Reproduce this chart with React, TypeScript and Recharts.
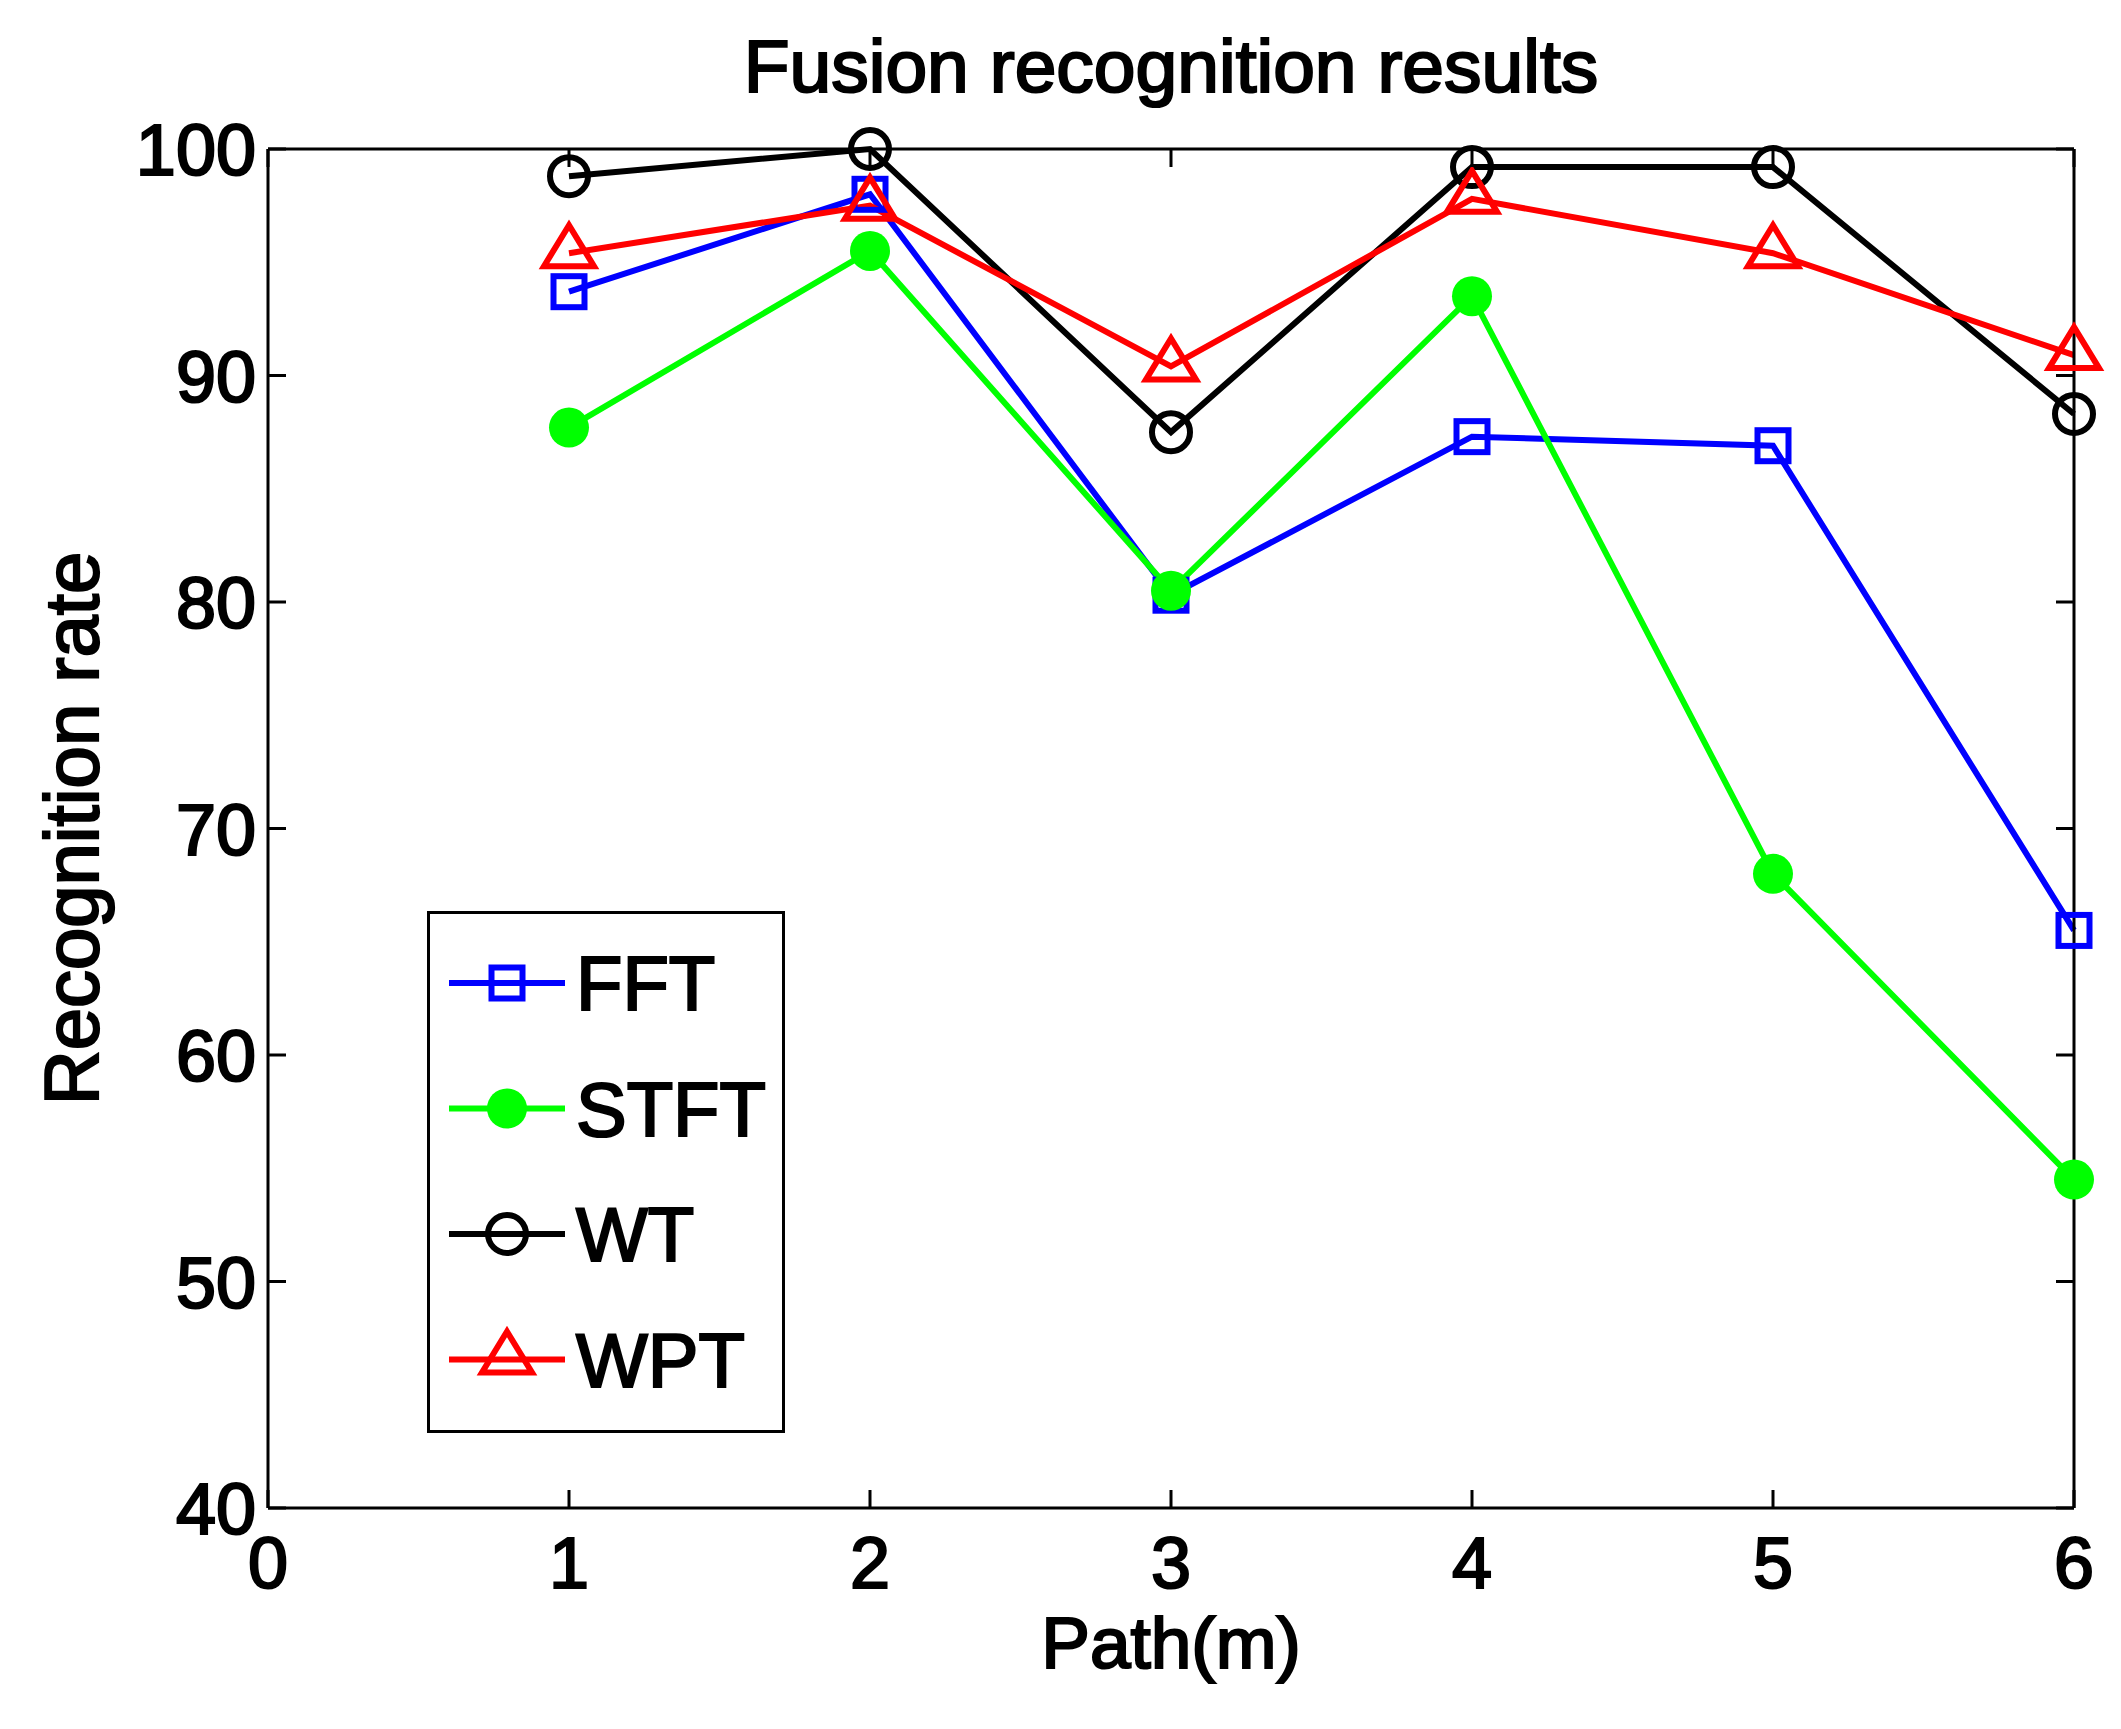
import React from "react";
import { LineChart, Line, XAxis, YAxis, Legend } from "recharts";

const paths = [1, 2, 3, 4, 5, 6];
const fftRates = [93.7, 98.0, 80.3, 87.3, 86.9, 65.5];
const stftRates = [87.7, 95.5, 80.5, 93.5, 68.0, 54.5];
const wtRates = [98.8, 100, 87.5, 99.2, 99.2, 88.3];
const wptRates = [95.4, 97.5, 90.4, 97.8, 95.4, 90.9];

const xTicks = [0, 1, 2, 3, 4, 5, 6];
const yTicks = [40, 50, 60, 70, 80, 90, 100];

const series = [
  { key: "FFT", color: "#0000ff", marker: "square" },
  { key: "STFT", color: "#00ff00", marker: "disc" },
  { key: "WT", color: "#000000", marker: "circle" },
  { key: "WPT", color: "#ff0000", marker: "triangle" },
];

const data = paths.map((p, i) => ({
  path: p,
  FFT: fftRates[i],
  STFT: stftRates[i],
  WT: wtRates[i],
  WPT: wptRates[i],
}));

const FONT = "'Liberation Sans', Arial, Helvetica, sans-serif";
const TICK_LEN = 18;
const LINE_W = 6;
// heavier glyphs, like the aliased MATLAB export
const textInk = { fill: "#000", stroke: "#000", strokeWidth: 2.2, fontFamily: FONT };

function Marker({ type, cx, cy, color }: { type: string; cx: number; cy: number; color: string }) {
  if (type === "square") {
    return <rect x={cx - 15.5} y={cy - 15.5} width={31} height={31} fill="none" stroke={color} strokeWidth={6} />;
  }
  if (type === "disc") {
    return <circle cx={cx} cy={cy} r={20} fill={color} stroke="none" />;
  }
  if (type === "circle") {
    return <circle cx={cx} cy={cy} r={19} fill="none" stroke={color} strokeWidth={6} />;
  }
  return (
    <polygon
      points={`${cx},${cy - 28} ${cx - 25},${cy + 13} ${cx + 25},${cy + 13}`}
      fill="none"
      stroke={color}
      strokeWidth={6}
    />
  );
}

const BottomTick = (p: any) => (
  <g>
    <line x1={p.x} y1={p.y} x2={p.x} y2={p.y - TICK_LEN} stroke="#000" strokeWidth={3} />
    <text x={p.x} y={p.y + 80} textAnchor="middle" fontSize={72} {...textInk}>
      {p.payload.value}
    </text>
  </g>
);

const TopTick = (p: any) => (
  <line x1={p.x} y1={p.y} x2={p.x} y2={p.y + TICK_LEN} stroke="#000" strokeWidth={3} />
);

const LeftTick = (p: any) => (
  <g>
    <line x1={p.x} y1={p.y} x2={p.x + TICK_LEN} y2={p.y} stroke="#000" strokeWidth={3} />
    <text x={p.x - 12} y={p.y + 26} textAnchor="end" fontSize={72} {...textInk}>
      {p.payload.value}
    </text>
  </g>
);

const RightTick = (p: any) => (
  <line x1={p.x} y1={p.y} x2={p.x - TICK_LEN} y2={p.y} stroke="#000" strokeWidth={3} />
);

const LegendBox = ({ payload }: any) => {
  const names: Record<string, string> = {};
  (payload || []).forEach((it: any) => {
    names[it.dataKey] = it.value;
  });
  return (
    <svg width={358} height={522} style={{ display: "block" }}>
      <rect x={1.5} y={1.5} width={355} height={519} fill="#fff" stroke="#000" strokeWidth={3} />
      {series.map((s, i) => {
        const y = 72 + i * 125.5;
        return (
          <g key={s.key}>
            <line x1={22} x2={138} y1={y} y2={y} stroke={s.color} strokeWidth={LINE_W} />
            <Marker type={s.marker} cx={80} cy={y} color={s.color} />
            <text x={149} y={y + 27} fontSize={76} {...textInk}>
              {names[s.key] || s.key}
            </text>
          </g>
        );
      })}
    </svg>
  );
};

export default function App() {
  return (
    <div style={{ width: 2121, height: 1729, background: "#fff", position: "relative" }}>
      <style>{"body{margin:0;background:#fff}"}</style>
      <LineChart
        width={2121}
        height={1729}
        data={data}
        margin={{ top: 148, right: 46, bottom: 220, left: 267 }}
      >
        <XAxis
          dataKey="path"
          type="number"
          domain={[0, 6]}
          ticks={xTicks}
          interval={0}
          height={1}
          tickSize={0}
          tickMargin={0}
          tickLine={false}
          axisLine={{ stroke: "#000", strokeWidth: 3 }}
          tick={BottomTick}
          label={(p: any) => (
            <text
              x={p.viewBox.x + p.viewBox.width / 2}
              y={p.viewBox.y + 160}
              textAnchor="middle"
              fontSize={73}
              {...textInk}
            >
              Path(m)
            </text>
          )}
        />
        <XAxis
          xAxisId="top"
          orientation="top"
          dataKey="path"
          type="number"
          domain={[0, 6]}
          ticks={xTicks}
          interval={0}
          height={1}
          tickSize={0}
          tickMargin={0}
          tickLine={false}
          axisLine={{ stroke: "#000", strokeWidth: 3 }}
          tick={TopTick}
          label={(p: any) => (
            <text
              x={p.viewBox.x + p.viewBox.width / 2}
              y={p.viewBox.y + p.viewBox.height - 57}
              textAnchor="middle"
              fontSize={75}
              {...textInk}
            >
              Fusion recognition results
            </text>
          )}
        />
        <YAxis
          type="number"
          domain={[40, 100]}
          ticks={yTicks}
          interval={0}
          width={1}
          tickSize={0}
          tickMargin={0}
          tickLine={false}
          axisLine={{ stroke: "#000", strokeWidth: 3 }}
          tick={LeftTick}
          label={(p: any) => {
            const x = p.viewBox.x + p.viewBox.width - 170;
            const y = p.viewBox.y + p.viewBox.height / 2;
            return (
              <text
                x={x}
                y={y}
                transform={`rotate(-90, ${x}, ${y})`}
                textAnchor="middle"
                fontSize={76}
                {...textInk}
              >
                Recognition rate
              </text>
            );
          }}
        />
        <YAxis
          yAxisId="right"
          orientation="right"
          dataKey="WT"
          type="number"
          domain={[40, 100]}
          ticks={yTicks}
          interval={0}
          width={1}
          tickSize={0}
          tickMargin={0}
          tickLine={false}
          axisLine={{ stroke: "#000", strokeWidth: 3 }}
          tick={RightTick}
        />
        <Legend
          layout="vertical"
          align="center"
          verticalAlign="middle"
          content={LegendBox}
          wrapperStyle={{ left: 427, top: 911, width: 358, height: 522, lineHeight: 0 }}
        />
        {series.map((s) => (
          <Line
            key={s.key}
            type="linear"
            dataKey={s.key}
            name={s.key}
            stroke={s.color}
            strokeWidth={LINE_W}
            isAnimationActive={false}
            dot={(p: any) => (
              <Marker key={`${s.key}-${p.index}`} type={s.marker} cx={p.cx} cy={p.cy} color={s.color} />
            )}
            activeDot={false}
          />
        ))}
      </LineChart>
    </div>
  );
}
